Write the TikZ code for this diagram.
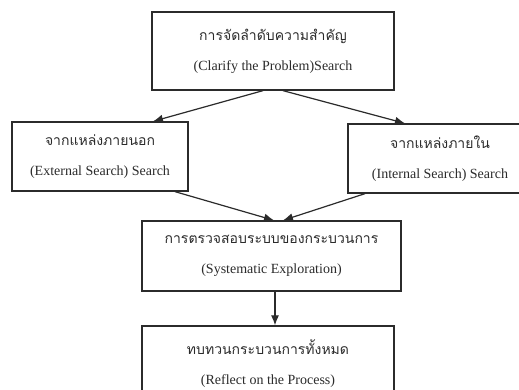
\documentclass[tikz,border=0pt]{standalone}
\usepackage{fontspec}
\setmainfont{Liberation Serif}
\newfontfamily\thaifont[Script=Thai]{Loma}
\usetikzlibrary{arrows.meta}
\definecolor{ink}{HTML}{2B2B2B}
\tikzset{
  stepbox/.style={draw=ink, line width=1.3pt, rectangle, align=center,
    text=ink, inner sep=0pt, font=\fontsize{14}{30}\selectfont},
  flow/.style={draw=ink, line width=1.2pt,
    -{Latex[length=10pt,width=8pt]}}
}
\begin{document}
\begin{tikzpicture}[x=1pt,y=-1pt]
\useasboundingbox (0,0) rectangle (519,390);
\clip (0,0) rectangle (519,390);
\fill[white] (0,0) rectangle (519,390);

\node[stepbox, minimum width=242pt, minimum height=78pt] (top) at (273,51)
  {{\thaifont การจัดลำดับความสำคัญ}\\(Clarify the Problem)Search};
\node[stepbox, minimum width=176pt, minimum height=69pt] (lbox) at (100,156.5)
  {{\thaifont จากแหล่งภายนอก}\\(External Search) Search};
\node[stepbox, minimum width=184pt, minimum height=69pt] (rbox) at (440,158.5)
  {{\thaifont จากแหล่งภายใน}\\(Internal Search) Search};
\node[stepbox, minimum width=259pt, minimum height=70pt] (mid) at (271.5,256)
  {{\thaifont การตรวจสอบระบบของกระบวนการ}\\(Systematic Exploration)};
\node[stepbox, minimum width=252pt, minimum height=75pt] (bot) at (268,363.5)
  {{\thaifont ทบทวนกระบวนการทั้งหมด}\\(Reflect on the Process)};

\draw[flow] ([xshift=-10pt]top.south) -- ([xshift=53pt]lbox.north);
\draw[flow] ([xshift=10pt]top.south) -- ([xshift=-35pt]rbox.north);
\draw[flow] ([xshift=75pt]lbox.south) -- ([xshift=2.5pt]mid.north);
\draw[flow] ([xshift=-75pt]rbox.south) -- ([xshift=11.5pt]mid.north);
\draw[flow] ([xshift=3.5pt]mid.south) -- ([xshift=7pt]bot.north);
\end{tikzpicture}
\end{document}
